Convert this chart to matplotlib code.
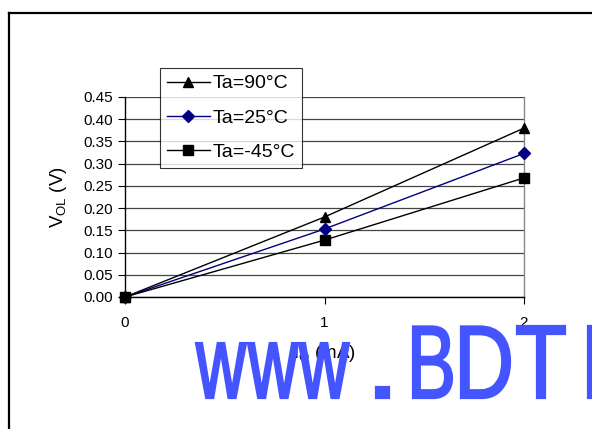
import matplotlib
matplotlib.use("Agg")
import matplotlib.pyplot as plt
from matplotlib.lines import Line2D
from matplotlib.textpath import TextPath
from matplotlib.patches import PathPatch
from matplotlib.font_manager import FontProperties
from matplotlib.transforms import Affine2D, IdentityTransform

plt.rcParams['font.family'] = ['Liberation Sans', 'DejaVu Sans']

current_ma = [0, 1, 2]
vol_90 = [0.0, 0.18, 0.38]
vol_25 = [0.0, 0.153, 0.323]
vol_m45 = [0.0, 0.128, 0.268]
labels = ["Ta=90°C", "Ta=25°C", "Ta=-45°C"]
yticks = [0.00, 0.05, 0.10, 0.15, 0.20, 0.25, 0.30, 0.35, 0.40, 0.45]
xticks = [0, 1, 2]
watermark_chars = ["w", "w", "w", ".", "B", "D", "T", "I"]
watermark_left_px = [196, 248, 299, 376, 413, 461, 517, 588]
watermark_width_px = [50, 50, 50, 13, 39, 49, 48, 9]

W, H = 592, 429
fig = plt.figure(figsize=(W / 100, H / 100), dpi=100)

ax = fig.add_axes([125 / W, 1 - 297 / H, (524 - 125) / W, 200 / H])
ax.set_xlim(0, 2)
ax.set_ylim(0, 0.45)
ax.set_yticks(yticks)
ax.set_yticklabels([f"{v:.2f}" for v in yticks])
ax.set_xticks(xticks)
ax.set_xticklabels([str(v) for v in xticks])
ax.tick_params(axis='both', labelsize=11, direction='out', length=5, width=0.8, colors='black')
ax.tick_params(axis='x', pad=9)
ax.tick_params(axis='y', pad=4)
ax.grid(axis='y', color='#444444', linewidth=0.9)
ax.set_axisbelow(True)
ax.spines['top'].set_visible(False)
ax.spines['right'].set_color('#888888')
ax.spines['right'].set_linewidth(1.0)
ax.spines['left'].set_linewidth(1.0)
ax.spines['bottom'].set_linewidth(1.0)

h1, = ax.plot(current_ma, vol_90, color='black', lw=1.0, marker='^', ms=7.5, label=labels[0], clip_on=False, zorder=3)
h2, = ax.plot(current_ma, vol_25, color='#000080', lw=1.0, marker='D', ms=6, label=labels[1], clip_on=False, zorder=3)
h3, = ax.plot(current_ma, vol_m45, color='black', lw=1.0, marker='s', ms=7.5, label=labels[2], clip_on=False, zorder=3)

ax.set_ylabel(r'V$_\mathregular{OL}$ (V)', fontsize=13.5, labelpad=10)
ax.set_xlabel(r'I$_\mathregular{O}$ (mA)', fontsize=13.5, labelpad=9)

leg = fig.legend(handles=[h1, h2, h3], loc='upper left',
                 bbox_to_anchor=(160 / W, 1 - 68 / H), fontsize=14,
                 frameon=True, fancybox=False, edgecolor='black',
                 handlelength=2.2, handletextpad=0.15, labelspacing=0.85,
                 borderpad=0.35, borderaxespad=0)
leg.get_frame().set_linewidth(0.8)
leg.set_zorder(5)

# outer frame
fig.add_artist(Line2D([9 / W, 1], [1 - 13 / H, 1 - 13 / H], color='black', lw=1.6, transform=fig.transFigure))
fig.add_artist(Line2D([9 / W, 9 / W], [0, 1 - 13 / H], color='black', lw=1.6, transform=fig.transFigure))

# watermark (condensed glyphs drawn as paths)
fp = FontProperties(family='Liberation Sans')
em = 104.0
baseline = H - 398
wm_color = '#4455FF'
for ch, left, width in zip(watermark_chars, watermark_left_px, watermark_width_px):
    tp = TextPath((0, 0), ch, size=em, prop=fp)
    ext = tp.get_extents()
    sx = width / ext.width
    tr = Affine2D().translate(-ext.x0, 0).scale(sx, 1.0).translate(left, baseline)
    patch = PathPatch(tr.transform_path(tp), facecolor=wm_color, edgecolor=wm_color,
                      linewidth=1.6, transform=IdentityTransform(), zorder=10)
    fig.add_artist(patch)

fig.savefig('out.png', dpi=100)
